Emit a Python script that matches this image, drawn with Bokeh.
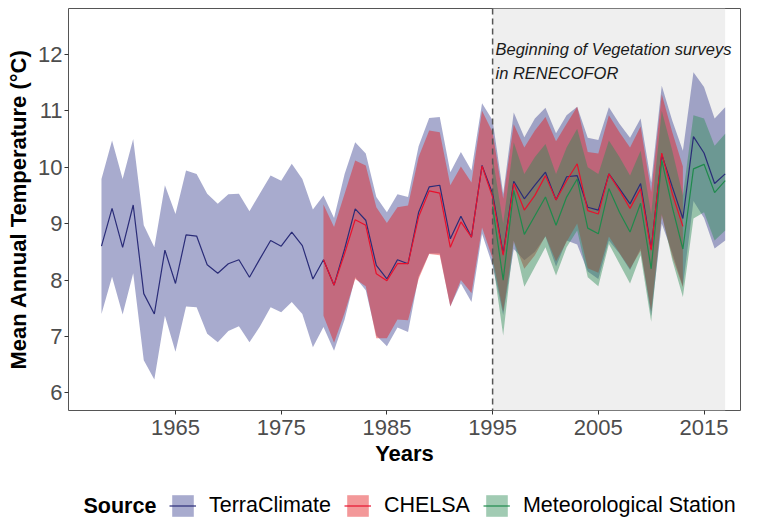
from bokeh.plotting import figure
from bokeh.layouts import column
from bokeh.models import (Range1d, FixedTicker, Span, BoxAnnotation, Legend,
                          LegendItem, Label)
from bokeh.core.properties import value
from bokeh.embed import file_html
from bokeh.resources import INLINE

# ---- data -------------------------------------------------------------
terra_years = list(range(1958, 2018))
terra_mean = [8.60, 9.27, 8.58, 9.33, 7.76, 7.40, 8.53, 7.94, 8.80, 8.78,
              8.27, 8.12, 8.29, 8.36, 8.05, 8.38, 8.70, 8.60, 8.85, 8.61,
              8.02, 8.36, 7.91, 8.55, 9.26, 9.06, 8.26, 8.02, 8.36, 8.29,
              9.20, 9.65, 9.68, 8.73, 9.13, 8.76, 10.03, 9.53, 8.47, 9.75,
              9.44, 9.68, 9.91, 9.42, 9.83, 9.85, 9.29, 9.24, 9.88, 9.62,
              9.35, 9.71, 8.55, 10.22, 9.65, 9.09, 10.54, 10.25, 9.71, 9.88]
terra_upper = [9.79, 10.47, 9.79, 10.50, 8.97, 8.58, 9.68, 9.17, 9.94, 9.88,
               9.53, 9.35, 9.52, 9.53, 9.22, 9.54, 9.85, 9.76, 10.06, 9.79,
               9.25, 9.50, 9.10, 9.88, 10.44, 10.24, 9.47, 9.20, 9.52, 9.47,
               10.37, 10.87, 10.89, 9.91, 10.27, 9.94, 11.13, 10.83, 9.53, 10.97,
               10.53, 10.86, 11.05, 10.60, 10.92, 11.07, 10.52, 10.48, 11.06, 10.77,
               10.52, 10.86, 9.73, 11.44, 10.82, 10.29, 11.68, 11.42, 10.86, 11.06]
terra_lower = [7.40, 8.06, 7.39, 8.12, 6.58, 6.24, 7.37, 6.73, 7.53, 7.52,
               7.05, 6.90, 7.10, 7.18, 6.90, 7.18, 7.52, 7.43, 7.61, 7.40,
               6.81, 7.17, 6.75, 7.30, 8.05, 7.82, 7.02, 6.83, 7.16, 7.08,
               8.06, 8.47, 8.47, 7.53, 7.94, 7.61, 8.82, 8.26, 7.38, 8.55,
               8.35, 8.50, 8.77, 8.24, 8.70, 8.63, 8.15, 8.02, 8.70, 8.47,
               8.18, 8.56, 7.37, 9.00, 8.48, 7.89, 9.40, 9.10, 8.56, 8.70]

chelsa_years = list(range(1979, 2014))
chelsa_mean = [8.36, 7.91, 8.47, 9.07, 8.97, 8.11, 7.99, 8.29, 8.29, 9.12,
               9.58, 9.54, 8.58, 9.03, 8.76, 10.02, 9.47, 8.44, 9.71, 9.24,
               9.50, 9.85, 9.42, 9.76, 10.06, 9.23, 9.17, 9.88, 9.59, 9.27,
               9.62, 8.53, 10.25, 9.53, 8.95]
chelsa_upper = [9.34, 8.94, 9.53, 10.12, 10.03, 9.29, 9.01, 9.29, 9.32, 10.18,
                10.65, 10.62, 9.68, 10.01, 9.73, 11.00, 10.62, 9.44, 10.76, 10.35,
                10.65, 10.89, 10.46, 10.77, 11.07, 10.27, 10.24, 10.92, 10.62, 10.35,
                10.72, 9.56, 11.29, 10.62, 10.01]
chelsa_lower = [7.37, 6.89, 7.42, 8.02, 7.89, 6.97, 6.97, 7.30, 7.29, 8.02,
                8.46, 8.44, 7.53, 8.00, 7.77, 8.93, 8.38, 7.44, 8.69, 8.20,
                8.44, 8.78, 8.33, 8.68, 9.00, 8.21, 8.13, 8.77, 8.48, 8.20,
                8.52, 7.45, 9.15, 8.41, 7.87]

station_years = list(range(1995, 2018))
station_mean = [9.30, 8.00, 9.59, 8.81, 9.14, 9.47, 8.97, 9.47, 9.79, 8.92,
                8.82, 9.62, 9.20, 8.85, 9.36, 8.20, 10.12, 9.29, 8.55, 9.97,
                10.05, 9.55, 9.76]
station_upper = [10.18, 9.00, 10.44, 9.88, 10.18, 10.41, 9.88, 10.35, 10.68, 10.00,
                 9.88, 10.47, 10.18, 9.85, 10.29, 9.17, 11.00, 10.29, 9.50, 10.92,
                 10.86, 10.38, 10.59]
station_lower = [8.35, 7.02, 8.70, 7.88, 8.23, 8.58, 8.08, 8.58, 8.88, 8.05,
                 7.89, 8.64, 8.29, 7.94, 8.44, 7.26, 9.17, 8.35, 7.70, 9.09,
                 9.20, 8.70, 8.88]

sources = ["TerraClimate", "CHELSA", "Meteorological Station"]
x_ticks = [1965, 1975, 1985, 1995, 2005, 2015]
y_ticks = [6, 7, 8, 9, 10, 11, 12]
survey_start = 1995
survey_end = 2017

FONT = "Liberation Sans"
fills = ["#3A3F8F", "#E41A1C", "#2E8B57"]
fill_alphas = [0.44, 0.45, 0.45]
lines = ["#2A2C78", "#E8112D", "#1F8A4C"]

series = [(terra_years, terra_lower, terra_upper, terra_mean),
          (chelsa_years, chelsa_lower, chelsa_upper, chelsa_mean),
          (station_years, station_lower, station_upper, station_mean)]

# ---- main panel -------------------------------------------------------
p = figure(frame_width=672, frame_height=402,
           x_range=Range1d(1954.88, 2018.45), y_range=Range1d(5.69, 12.81),
           output_backend="svg", toolbar_location=None,
           min_border_left=68, min_border_right=17,
           min_border_top=8, min_border_bottom=64)
p.background_fill_color = "white"
p.border_fill_color = "white"
p.outline_line_color = "#555555"
p.outline_line_width = 1
p.xgrid.visible = False
p.ygrid.visible = False

# shaded survey period
p.add_layout(BoxAnnotation(left=survey_start, right=survey_end,
                           fill_color="#EFEFEF", fill_alpha=1.0,
                           line_color=None, level="underlay"))

for (yrs, lo, hi, _), fc, fa in zip(series, fills, fill_alphas):
    p.varea(x=yrs, y1=lo, y2=hi, fill_color=fc, fill_alpha=fa)
for (yrs, _, _, mean), lc in zip(series, lines):
    p.line(yrs, mean, line_color=lc, line_width=1.2)

p.add_layout(Span(location=survey_start, dimension="height",
                  line_color="#555555", line_width=1.5, line_dash="6 4"))

p.text(x=[1995.27, 1995.27], y=[12.10, 11.66],
       text=["Beginning of Vegetation surveys", "in RENECOFOR"],
       text_font=value(FONT), text_font_size="16.5px",
       text_font_style="italic", text_color="#1A1A1A",
       text_align="left", text_baseline="alphabetic")

p.xaxis.ticker = FixedTicker(ticks=x_ticks)
p.yaxis.ticker = FixedTicker(ticks=y_ticks)
p.xaxis.axis_label = "Years"
p.yaxis.axis_label = "Mean Annual Temperature (°C)"
for ax in (p.xaxis[0], p.yaxis[0]):
    ax.axis_line_color = None
    ax.major_tick_line_color = "#333333"
    ax.major_tick_out = 4
    ax.major_tick_in = 0
    ax.minor_tick_line_color = None
    ax.major_label_text_font = FONT
    ax.major_label_text_font_size = "22px"
    ax.major_label_text_color = "#4D4D4D"
    ax.axis_label_text_font = FONT
    ax.axis_label_text_font_size = "22px"
    ax.axis_label_text_font_style = "bold"
    ax.axis_label_text_color = "black"
p.xaxis.major_label_standoff = 5
p.xaxis.axis_label_standoff = 3
p.yaxis.major_label_standoff = 2
p.yaxis.axis_label_standoff = 4

# ---- legend strip: same borders as the main panel, x in canvas pixels --
lg = figure(frame_width=672, frame_height=50,
            x_range=Range1d(68, 740), y_range=Range1d(0, 50),
            output_backend="svg", toolbar_location=None,
            x_axis_location=None, y_axis_location=None,
            min_border_left=68, min_border_right=17,
            min_border_top=0, min_border_bottom=0)
lg.outline_line_color = None
lg.background_fill_color = "white"
lg.border_fill_color = "white"
lg.xgrid.visible = False
lg.ygrid.visible = False

# the same series, here only to feed the legend swatches
# (their years fall outside this strip's pixel range)
items = []
for name, (yrs, lo, hi, mean), fc, fa, lc in zip(sources, series, fills,
                                                 fill_alphas, lines):
    band = lg.varea(x=yrs, y1=lo, y2=hi, fill_color=fc, fill_alpha=fa)
    ln = lg.line(x=yrs, y=mean, line_color=lc, line_width=1.2)
    items.append(LegendItem(label=name, renderers=[band, ln]))

legend = Legend(items=items, orientation="horizontal", location=(101, 5))
legend.glyph_width = 27
legend.glyph_height = 27
legend.label_standoff = 13
legend.spacing = 13
legend.padding = 0
legend.margin = 0
legend.border_line_color = None
legend.background_fill_alpha = 0
legend.label_text_font = FONT
legend.label_text_font_size = "21.5px"
legend.label_text_color = "black"
lg.add_layout(legend, "center")

lg.add_layout(Label(x=83, y=18.5, text="Source", text_font=FONT,
                    text_font_size="21.5px", text_font_style="bold",
                    text_color="black", text_baseline="middle",
                    text_align="left"))

layout = column(p, lg, spacing=0)
open("out.html", "w").write(file_html(layout, INLINE))
